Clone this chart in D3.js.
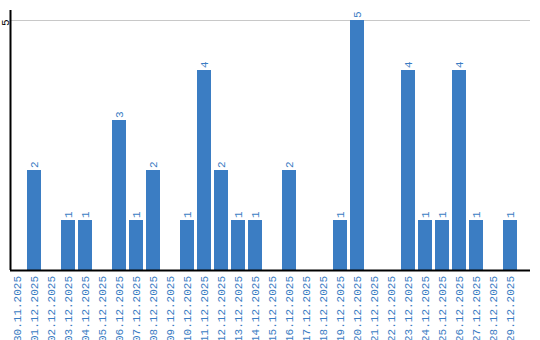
<!DOCTYPE html>
<html lang="en">
<head>
  <meta charset="utf-8" />
  <script src="https://d3js.org/d3.v7.min.js"></script>
  <style>
    body { margin: 0; background: #fff; }
    text { font-family: "Liberation Mono", monospace; }
  </style>
</head>
<body>
  <script>
    var dates = ["30.11.2025", "01.12.2025", "02.12.2025", "03.12.2025", "04.12.2025",
      "05.12.2025", "06.12.2025", "07.12.2025", "08.12.2025", "09.12.2025",
      "10.12.2025", "11.12.2025", "12.12.2025", "13.12.2025", "14.12.2025",
      "15.12.2025", "16.12.2025", "17.12.2025", "18.12.2025", "19.12.2025",
      "20.12.2025", "21.12.2025", "22.12.2025", "23.12.2025", "24.12.2025",
      "25.12.2025", "26.12.2025", "27.12.2025", "28.12.2025", "29.12.2025"];
    var counts = [0, 2, 0, 1, 1, 0, 3, 1, 2, 0, 1, 4, 2, 1, 1, 0, 2, 0, 0, 1, 5, 0, 0, 4, 1, 1, 4, 1, 0, 1];
    var yTicks = [5];

    var svg_width = 540, svg_height = 340;
    var plotLeft = 10, plotRight = 530, plotTop = 10, plotBottom = 270;
    var blue = "#3b7dc3";
    var labelFont = "Liberation Mono, monospace";

    var svg = d3.select("body").append("svg")
      .attr("width", svg_width)
      .attr("height", svg_height);

    var x = d3.scaleBand()
      .domain(dates)
      .range([plotLeft, plotLeft + 17 * dates.length])
      .paddingInner(3 / 17)
      .paddingOuter(1.5 / 17)
      .align(0);

    var y = d3.scaleLinear()
      .domain([0, 5.2])
      .range([plotBottom, plotTop]);

    // grid
    svg.append("g")
      .selectAll("line")
      .data(yTicks)
      .join("line")
      .attr("x1", plotLeft)
      .attr("x2", plotRight)
      .attr("y1", function (d) { return Math.round(y(d)) + 0.5; })
      .attr("y2", function (d) { return Math.round(y(d)) + 0.5; })
      .attr("stroke", "#c8c8c8")
      .attr("stroke-width", 1);

    // bars
    svg.append("g")
      .selectAll("rect")
      .data(counts)
      .join("rect")
      .attr("x", function (d, i) { return x(dates[i]); })
      .attr("width", x.bandwidth())
      .attr("y", function (d) { return y(d); })
      .attr("height", function (d) { return plotBottom - y(d); })
      .attr("fill", blue);

    // value labels
    svg.append("g")
      .selectAll("text")
      .data(counts.map(function (d, i) { return { v: d, k: dates[i] }; }).filter(function (d) { return d.v > 0; }))
      .join("text")
      .attr("transform", function (d) {
        return "translate(" + (x(d.k) + x.bandwidth() / 2) + "," + (y(d.v) - 2) + ") rotate(-90)";
      })
      .attr("dy", "0.35em")
      .attr("text-anchor", "start")
      .attr("font-size", 11)
      .attr("font-family", labelFont)
      .attr("fill", blue)
      .text(function (d) { return d.v; });

    // x axis
    var xAxis = svg.append("g")
      .attr("transform", "translate(0," + plotBottom + ")")
      .call(d3.axisBottom(x).tickSize(0).tickPadding(0));
    xAxis.select(".domain")
      .attr("d", "M" + plotLeft + ",0.5H" + plotRight)
      .attr("stroke", "#000")
      .attr("stroke-width", 2);
    xAxis.selectAll(".tick text")
      .attr("transform", "translate(0,6) rotate(-90)")
      .attr("y", 0)
      .attr("x", 0)
      .attr("dy", "0.35em")
      .attr("text-anchor", "end")
      .attr("font-size", 11)
      .attr("font-family", labelFont)
      .attr("fill", blue);

    // y axis
    var yAxis = svg.append("g")
      .attr("transform", "translate(" + plotLeft + ",0)")
      .call(d3.axisLeft(y).tickValues(yTicks).tickFormat(d3.format("d")).tickSize(0).tickPadding(0));
    yAxis.select(".domain")
      .attr("d", "M0.5," + plotTop + "V" + plotBottom)
      .attr("stroke", "#000")
      .attr("stroke-width", 2);
    yAxis.selectAll(".tick text")
      .attr("transform", "translate(-5,-1) rotate(-90)")
      .attr("x", 0)
      .attr("dy", "0.35em")
      .attr("text-anchor", "end")
      .attr("font-size", 11)
      .attr("font-family", labelFont)
      .attr("fill", "#000");
  </script>
</body>
</html>
